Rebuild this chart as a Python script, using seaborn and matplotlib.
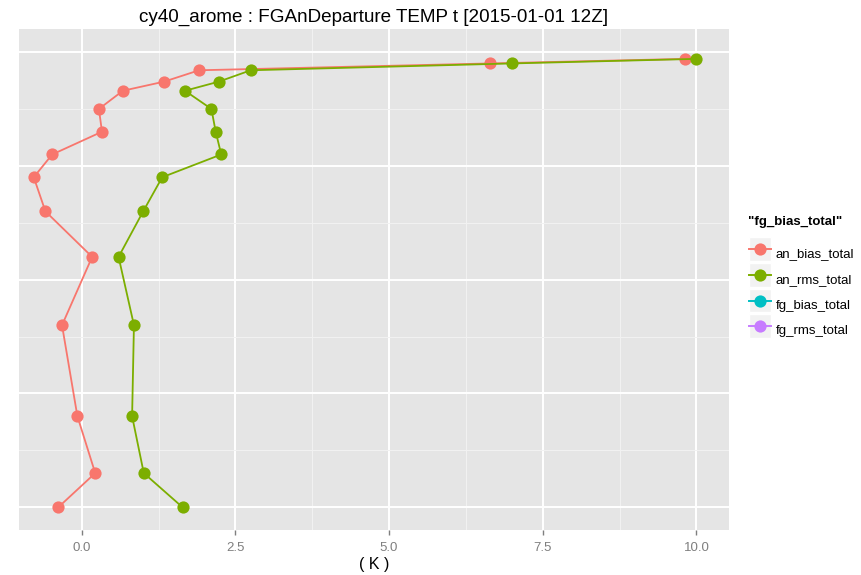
import matplotlib
matplotlib.use("Agg")
import matplotlib.pyplot as plt
from matplotlib.lines import Line2D
from matplotlib.patches import Rectangle
from matplotlib.legend_handler import HandlerLine2D
import pandas as pd
import seaborn as sns

# pressure levels (hPa), surface to top
levels = [1000, 925, 800, 600, 450, 350, 275, 225, 175, 125, 85, 65, 40, 25, 15]

# departures in K
an_bias_total = [-0.38, 0.22, -0.07, -0.32, 0.17, -0.59, -0.78, -0.48,
                 0.33, 0.28, 0.67, 1.34, 1.91, 6.64, 9.81]
an_rms_total = [1.64, 1.01, 0.82, 0.85, 0.60, 1.00, 1.31, 2.27,
                2.18, 2.11, 1.68, 2.23, 2.75, 7.00, 9.99]

series = ['an_bias_total', 'an_rms_total', 'fg_bias_total', 'fg_rms_total']
colors = ['#F8766D', '#7CAE00', '#00BFC4', '#C77CFF']

x_ticks = [0.0, 2.5, 5.0, 7.5, 10.0]
x_tick_labels = ['0.0', '2.5', '5.0', '7.5', '10.0']

title = 'cy40_arome : FGAnDeparture TEMP t [2015-01-01 12Z]'
legend_title = '"fg_bias_total"'

# long table, fg series have no values in this plot
df = pd.concat([
    pd.DataFrame({'level': levels, 'value': an_bias_total, 'variable': 'an_bias_total'}),
    pd.DataFrame({'level': levels, 'value': an_rms_total, 'variable': 'an_rms_total'}),
])

plt.rcParams['font.family'] = ['Liberation Sans', 'DejaVu Sans']

W, H = 862, 575
fig = plt.figure(figsize=(W / 100, H / 100), dpi=100)
ax = fig.add_axes([19.3 / W, 1 - 530 / H, (729 - 19.3) / W, (530 - 29.3) / H])
ax.set_facecolor('#E5E5E5')

sns.lineplot(data=df, x='value', y='level', hue='variable',
             hue_order=series[:2], palette=colors[:2], orient='y', sort=False,
             estimator=None, marker='o', markersize=8.8, markeredgewidth=0,
             linewidth=1.3, legend=False, ax=ax, zorder=3)

ax.set_xlim(-1.015, 10.53)
ax.set_ylim(1050, -50)
ax.set_xticks(x_ticks)
ax.set_xticklabels(x_tick_labels,
                   fontfamily=['Liberation Sans Narrow', 'Liberation Sans', 'DejaVu Sans'])
ax.set_xticks([1.25, 3.75, 6.25, 8.75], minor=True)
ax.set_yticks([0, 250, 500, 750, 1000])
ax.set_yticks([125, 375, 625, 875], minor=True)
ax.grid(True, which='major', color='white', linewidth=1.4, zorder=0)
ax.grid(True, which='minor', color='#F2F2F2', linewidth=0.7, zorder=0)
ax.set_axisbelow(True)
for s in ax.spines.values():
    s.set_visible(False)
ax.tick_params(axis='x', which='major', length=3.5, width=1, color='#7F7F7F',
               labelcolor='#7F7F7F', labelsize=9.5, pad=5)
ax.tick_params(axis='both', which='minor', length=0)
ax.tick_params(axis='y', which='major', length=0, labelleft=False)
ax.set_xlabel('')
ax.set_ylabel('')

fig.text(374 / W, 1 - 17 / H, title, ha='center', va='center', fontsize=13.6)
fig.text(374 / W, 1 - 564 / H, '( K )', ha='center', va='center', fontsize=11.5)
fig.text(748 / W, 1 - 222 / H, legend_title, ha='left', va='center',
         fontsize=9.5, fontweight='bold')


class KeyHandler(HandlerLine2D):
    # grey key box centred on the marker, as in ggplot legends
    def create_artists(self, legend, orig_handle, xdescent, ydescent,
                       width, height, fontsize, trans):
        bg = Rectangle((-xdescent, -ydescent / 2), width, height,
                       facecolor='#F2F2F2', edgecolor='white', linewidth=1,
                       transform=trans)
        arts = super().create_artists(legend, orig_handle, xdescent, ydescent,
                                      width, height, fontsize, trans)
        return [bg] + list(arts)


handles = [Line2D([], [], color=c, marker='o', markersize=8.8,
                  markeredgewidth=0, linewidth=1.4) for c in colors]
leg = fig.legend(handles, series, loc='upper left',
                 bbox_to_anchor=(749 / W, 1 - 241 / H), frameon=False,
                 prop={'size': 9.5}, handlelength=1.65, handleheight=2.4,
                 handletextpad=0.35, labelspacing=0.15, borderpad=0,
                 borderaxespad=0,
                 handler_map={Line2D: KeyHandler(numpoints=1)})

fig.savefig('out.png', dpi=100)
